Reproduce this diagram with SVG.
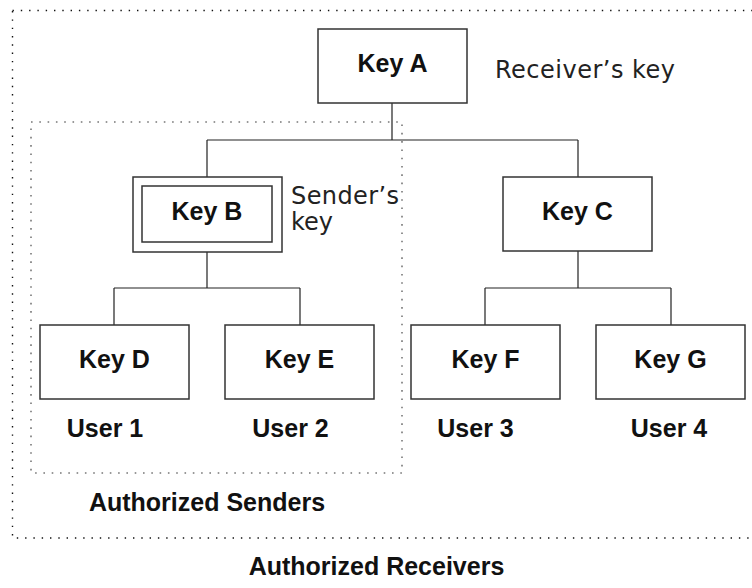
<svg xmlns="http://www.w3.org/2000/svg" width="752" height="588" viewBox="0 0 752 588">
<style>
.box{fill:#fff;stroke:#333;stroke-width:1.5}
.conn{fill:none;stroke:#222;stroke-width:1.2}
.outer{fill:none;stroke:#111;stroke-width:1.4;stroke-dasharray:1.4 6.9}
.inner{fill:none;stroke:#777;stroke-width:1.6;stroke-dasharray:1.6 6.7}
.lbl{font-family:"Liberation Sans",Arial,sans-serif;font-weight:bold;font-size:25px;fill:#111;text-anchor:middle}
.note{font-family:"DejaVu Sans","Liberation Sans",sans-serif;font-size:24px;fill:#222}
</style>
<rect width="752" height="588" fill="#fff"/>
<g id="regions">
<rect class="outer" x="12.5" y="10.5" width="760" height="527.5"/>
<rect class="inner" x="31" y="122" width="371" height="351"/>
</g>
<g id="connectors">
<path class="conn" d="M392 103V140M207 140H578M207 140V177M578 140V177"/>
<path class="conn" d="M207 252V288M114 288H300M114 288V325M300 288V325"/>
<path class="conn" d="M578 251V288M485 288H671M485 288V325M671 288V325"/>
</g>
<g id="keyA">
<rect class="box" x="318" y="29" width="149" height="74"/>
<text class="lbl" x="392.5" y="72">Key A</text>
</g>
<g id="keyB">
<rect class="box" x="133" y="177" width="149" height="75"/>
<rect class="box" x="142" y="186" width="130" height="56"/>
<text class="lbl" x="207" y="220">Key B</text>
</g>
<g id="keyC">
<rect class="box" x="503" y="177" width="149" height="74"/>
<text class="lbl" x="577.5" y="220">Key C</text>
</g>
<g id="keyD">
<rect class="box" x="40" y="325" width="149" height="74"/>
<text class="lbl" x="114.5" y="368">Key D</text>
<text class="lbl" x="105" y="437">User 1</text>
</g>
<g id="keyE">
<rect class="box" x="225" y="325" width="149" height="74"/>
<text class="lbl" x="299.5" y="368">Key E</text>
<text class="lbl" x="290.5" y="437">User 2</text>
</g>
<g id="keyF">
<rect class="box" x="411" y="325" width="149" height="74"/>
<text class="lbl" x="485.5" y="368">Key F</text>
<text class="lbl" x="475.5" y="437">User 3</text>
</g>
<g id="keyG">
<rect class="box" x="596" y="325" width="149" height="74"/>
<text class="lbl" x="670.5" y="368">Key G</text>
<text class="lbl" x="669" y="437">User 4</text>
</g>
<g id="notes">
<text class="note" x="495" y="78" textLength="180">Receiver’s key</text>
<text class="note" x="291" y="204" textLength="108">Sender’s</text>
<text class="note" x="291" y="230">key</text>
<text class="lbl" x="207" y="511">Authorized Senders</text>
<text class="lbl" x="376.5" y="575">Authorized Receivers</text>
</g>
</svg>
